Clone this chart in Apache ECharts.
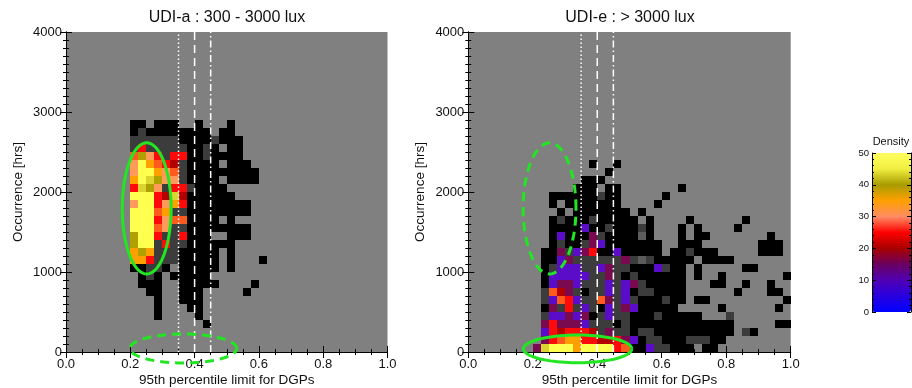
<!DOCTYPE html>
<html>
<head>
<meta charset="utf-8">
<script src="https://cdn.jsdelivr.net/npm/echarts@6/dist/echarts.min.js"></script>
<style>
  html, body { margin: 0; padding: 0; background: #fff; }
  #chart { width: 912px; height: 388px; }
</style>
</head>
<body>
<div id="chart"></div>
<script>
// histogram bins: x = 95th percentile DGP limit, y = occurrence [hrs]
const xStart = 0.2;
const dx = 0.025;
const dy = 100;

// density levels (K black, G/H greys = lowest counts)
const K = 1, G = 2, H = 3, P = 10, M = 15, D = 20, R = 24, O = 28, L = 32, A = 36, V = 41, W = 44, Y = 48;

// UDI-a panel, rows from 2800-2900 hrs down to 300-400 hrs, columns from x = 0.200
const leftTopRow = 28;
const leftRows = [
  [K,K,0,K,K,K,0,0,K,0,0,0,K,0,0,0,0],
  [K,G,K,K,K,K,K,K,K,K,0,K,K,0,0,0,0],
  [G,G,G,G,G,G,K,K,K,K,G,K,K,K,0,0,0],
  [G,R,G,G,G,G,G,K,K,G,K,0,K,K,0,0,0],
  [O,V,L,R,G,R,R,K,K,G,K,K,K,K,0,0,0],
  [L,Y,A,O,R,D,G,K,K,K,K,0,K,K,K,0,0],
  [L,Y,Y,A,L,O,G,K,K,K,K,K,K,K,K,K,0],
  [A,Y,W,V,L,L,G,K,K,K,K,0,K,K,K,K,0],
  [R,W,V,L,G,R,R,G,K,K,K,K,0,0,0,0,0],
  [Y,Y,Y,R,D,W,D,K,K,K,K,K,K,0,0,0,0],
  [L,Y,Y,R,L,A,R,K,K,K,K,K,K,K,K,0,0],
  [Y,Y,Y,O,A,G,G,K,K,K,K,K,K,K,K,0,0],
  [Y,Y,Y,R,L,O,O,K,K,K,K,0,K,0,0,0,0],
  [Y,Y,Y,O,L,G,G,K,K,K,K,K,K,K,K,0,0],
  [V,Y,Y,R,G,G,R,K,K,K,0,0,K,K,K,0,0],
  [V,Y,Y,G,R,G,G,K,K,K,K,K,K,0,0,0,0],
  [A,V,A,G,G,G,K,K,K,K,K,0,K,0,0,0,0],
  [A,A,R,G,G,G,K,K,K,K,K,0,K,0,0,0,K],
  [K,K,G,G,K,0,K,K,K,K,K,0,K,0,0,0,0],
  [0,K,G,K,0,K,K,K,K,K,0,0,0,0,0,0,0],
  [0,K,K,K,0,0,K,K,K,K,K,0,0,0,0,K,0],
  [0,0,K,K,0,0,K,K,K,0,0,0,0,0,K,0,0],
  [0,0,0,K,0,0,K,K,K,0,0,0,0,0,0,0,0],
  [0,0,0,K,0,0,0,K,K,0,0,0,0,0,0,0,0],
  [0,0,0,K,0,0,0,0,K,0,0,0,0,0,0,0,0],
  [0,0,0,0,0,0,0,0,0,K,0,0,0,0,0,0,0]
];

// UDI-e panel, rows from 2300-2400 hrs down to 0-100 hrs, columns from x = 0.200
const rightTopRow = 23;
const rightRows = [
  [0,0,0,0,0,0,0,K,0,0,K,0,0,0,0,0,0,0,0,0,0,0,0,0,0,0,0,0,0,0,0,0],
  [0,0,0,0,0,0,0,0,0,K,0,0,0,0,0,0,0,0,0,0,0,0,0,0,0,0,0,0,0,0,0,0],
  [0,0,0,0,0,0,K,K,K,0,0,0,0,0,0,0,0,0,0,0,0,0,0,0,0,0,0,0,0,0,0,0],
  [0,0,0,0,0,K,K,K,0,K,K,0,0,0,0,0,0,0,K,0,0,0,0,0,0,0,0,0,0,0,0,0],
  [0,0,K,K,K,K,K,K,G,K,K,0,0,0,0,0,K,0,0,0,0,0,0,0,0,0,0,0,0,0,0,0],
  [0,0,K,0,K,K,K,K,K,K,K,0,0,0,0,K,0,0,0,0,0,0,0,0,0,0,0,0,0,0,0,0],
  [0,0,0,K,0,K,K,K,K,K,K,K,0,K,0,0,0,0,0,0,0,0,0,0,0,0,0,0,0,0,0,0],
  [0,0,K,G,K,K,K,G,K,K,K,K,K,0,K,0,0,0,0,K,0,0,0,0,0,0,K,0,0,0,0,0],
  [0,0,K,K,K,K,P,K,K,G,K,K,K,G,K,0,0,0,K,0,K,0,0,0,0,K,0,0,0,0,0,0],
  [0,0,K,P,K,K,K,M,G,K,K,K,K,H,K,0,0,0,K,0,K,K,0,0,0,0,0,0,0,K,0,0],
  [0,0,K,G,K,K,G,M,P,K,K,K,K,K,K,K,0,0,K,K,K,0,0,0,0,0,0,0,K,K,K,0],
  [0,K,K,M,G,P,M,R,K,K,P,K,K,K,K,K,0,K,K,G,K,K,K,0,0,0,0,0,K,K,K,0],
  [0,K,K,P,M,G,G,G,G,G,G,M,G,H,G,K,K,K,K,K,0,K,K,K,K,0,0,0,0,0,0,0],
  [0,K,G,P,P,P,G,G,P,M,G,G,K,K,K,P,G,K,K,0,K,0,0,0,0,0,K,K,0,0,0,0],
  [0,K,P,P,P,P,P,G,G,M,G,K,G,K,K,K,K,K,K,0,K,0,0,K,0,0,0,0,0,0,0,K],
  [0,K,P,M,M,P,G,G,G,P,G,P,M,G,K,K,K,K,K,0,0,0,K,K,0,0,K,0,0,K,0,0],
  [0,G,O,D,M,G,K,G,G,P,G,P,K,G,G,K,K,K,K,0,0,0,0,0,0,K,0,0,0,K,K,0],
  [0,G,P,O,R,P,G,G,O,M,G,P,G,K,K,K,G,K,K,0,K,K,0,0,0,0,0,0,0,0,0,K],
  [0,K,M,G,R,G,P,G,K,P,G,M,P,K,K,K,K,K,0,0,0,0,0,K,0,0,0,0,0,0,K,0],
  [0,G,P,P,M,P,M,K,G,P,G,G,K,K,K,G,K,K,K,K,K,0,0,0,G,0,0,0,0,0,0,0],
  [0,M,R,M,M,M,P,G,G,G,K,G,K,K,K,K,K,K,K,K,K,K,K,K,K,0,0,0,0,0,K,K],
  [0,P,R,D,R,R,R,D,G,M,G,G,K,G,G,K,K,K,K,K,K,K,K,K,K,0,G,K,0,0,0,0],
  [0,M,R,O,A,A,R,R,D,D,R,M,P,K,G,G,K,K,K,G,G,G,K,K,0,0,0,0,0,0,0,0],
  [M,W,Y,Y,Y,A,Y,Y,Y,Y,R,O,K,K,P,G,G,K,K,K,0,K,K,0,0,0,0,0,0,0,0,0]
];

// reference limits drawn as white lines (dotted, dashed, dash-dot)
const refLimits = [0.35, 0.40, 0.45];
const refDash = [[1.5, 2.5], [8, 5], [7, 3, 1.5, 3]];

// green ellipses: centre x, centre y, half width, half height, dashed?
const leftEllipses = [[0.251, 1795, 0.076, 820, 0], [0.365, 44, 0.166, 181, 1]];
const rightEllipses = [[0.252, 1795, 0.082, 820, 1], [0.339, 39, 0.168, 173, 0]];

// colour bar
const densityMin = 0;
const densityMax = 50;
const densityColors = ['#0000ff', '#2800e0', '#5000b4', '#6a0060', '#a80000', '#ff0000',
  '#ff8c64', '#ffa000', '#a89c00', '#f0ee40', '#ffff60'];

function toCells(rows, topRow) {
  const out = [];
  rows.forEach((row, i) => {
    const y = (topRow - i) * dy;
    row.forEach((v, c) => {
      if (v > 0) out.push([xStart + c * dx, y, v]);
    });
  });
  return out;
}

function cellItem(params, api) {
  const x = api.value(0), y = api.value(1);
  const p0 = api.coord([x, y + dy]);
  const p1 = api.coord([x + dx, y]);
  const x0 = Math.round(p0[0]), y0 = Math.round(p0[1]);
  return {
    type: 'rect',
    shape: { x: x0, y: y0, width: Math.round(p1[0]) - x0, height: Math.round(p1[1]) - y0 },
    style: { fill: api.visual('color') }
  };
}

function refLineItem(params, api) {
  const x = api.value(0);
  const a = api.coord([x, 0]);
  const b = api.coord([x, 4000]);
  return {
    type: 'line',
    shape: { x1: a[0], y1: a[1], x2: b[0], y2: b[1] },
    style: { stroke: '#ffffff', lineWidth: 1.5, lineDash: refDash[params.dataIndex] }
  };
}

function ellipseItem(params, api) {
  const cx = api.value(0), cy = api.value(1), rx = api.value(2), ry = api.value(3);
  const pts = [];
  for (let i = 0; i <= 90; i++) {
    const t = (i / 90) * Math.PI * 2;
    pts.push(api.coord([cx + rx * Math.cos(t), cy + ry * Math.sin(t)]));
  }
  return {
    type: 'polyline',
    shape: { points: pts },
    style: {
      stroke: '#22e622', lineWidth: 3, fill: null,
      lineDash: api.value(4) ? [9, 6] : null
    }
  };
}

const font = 'Liberation Sans, Arial, Helvetica, sans-serif';
const ink = '#111';

function xAxisPair(gridIndex) {
  const base = {
    gridIndex, type: 'value', min: 0, max: 1, interval: 0.2,
    splitLine: { show: false },
    axisLine: { lineStyle: { color: '#000', width: 1 } },
    axisTick: { inside: true, length: 6, lineStyle: { color: '#000' } },
    minorTick: { show: true, splitNumber: 4, length: 3, lineStyle: { color: '#000' } }
  };
  return [
    Object.assign({}, base, {
      position: 'bottom',
      name: '95th percentile limit for DGPs', nameLocation: 'middle', nameGap: 21,
      nameMoveOverlap: false,
      nameTextStyle: { color: ink, fontSize: 13.5, fontFamily: font },
      axisLabel: { color: ink, fontSize: 13, fontFamily: font, margin: 6,
        formatter: v => v.toFixed(1) }
    }),
    Object.assign({}, base, { position: 'top', axisLabel: { show: false } })
  ];
}

function yAxisPair(gridIndex) {
  const base = {
    gridIndex, type: 'value', min: 0, max: 4000, interval: 1000,
    splitLine: { show: false },
    axisLine: { lineStyle: { color: '#000', width: 1 } },
    axisTick: { inside: true, length: 6, lineStyle: { color: '#000' } },
    minorTick: { show: true, splitNumber: 10, length: 3, lineStyle: { color: '#000' } }
  };
  return [
    Object.assign({}, base, {
      position: 'left',
      name: 'Occurrence [hrs]', nameLocation: 'middle', nameGap: 41, nameRotate: 90,
      nameMoveOverlap: false,
      nameTextStyle: { color: ink, fontSize: 13.5, fontFamily: font },
      axisLabel: { color: ink, fontSize: 13, fontFamily: font, margin: 4,
        formatter: v => String(v) }
    }),
    Object.assign({}, base, { position: 'right', axisLabel: { show: false } })
  ];
}

const chart = echarts.init(document.getElementById('chart'), null, { renderer: 'canvas' });

chart.setOption({
  animation: false,
  backgroundColor: '#ffffff',
  title: [
    { text: 'UDI-a : 300 - 3000 lux', left: 227, top: 10, padding: 0, textAlign: 'center',
      textStyle: { fontSize: 16, fontWeight: 'normal', color: ink, fontFamily: font } },
    { text: 'UDI-e : > 3000 lux', left: 630, top: 10, padding: 0, textAlign: 'center',
      textStyle: { fontSize: 16, fontWeight: 'normal', color: ink, fontFamily: font } },
    { text: 'Density', left: 891, top: 136, padding: 0, textAlign: 'center',
      textStyle: { fontSize: 11, fontWeight: 'normal', color: ink, fontFamily: font } }
  ],
  grid: [
    { left: 66, top: 32, width: 321.5, height: 320, show: true, backgroundColor: '#808080',
      borderWidth: 0, containLabel: false, outerBoundsMode: 'none' },
    { left: 468.3, top: 32, width: 322.4, height: 320, show: true, backgroundColor: '#808080',
      borderWidth: 0, containLabel: false, outerBoundsMode: 'none' },
    { left: 872, top: 153, width: 39, height: 159, containLabel: false, outerBoundsMode: 'none' }
  ],
  xAxis: [
    ...xAxisPair(0),
    ...xAxisPair(1),
    { gridIndex: 2, type: 'value', min: 0, max: 1, show: false }
  ],
  yAxis: [
    ...yAxisPair(0),
    ...yAxisPair(1),
    {
      gridIndex: 2, type: 'value', min: densityMin, max: densityMax, interval: 10, position: 'left', z: 10,
      splitLine: { show: false },
      axisLine: { lineStyle: { color: '#000' } },
      axisTick: { inside: true, length: 4, lineStyle: { color: '#000' } },
      minorTick: { show: true, splitNumber: 5, length: 2, lineStyle: { color: '#000' } },
      axisLabel: { color: ink, fontSize: 9.5, fontFamily: font, margin: 3 }
    },
    {
      gridIndex: 2, type: 'value', min: densityMin, max: densityMax, interval: 10, position: 'right', z: 10,
      splitLine: { show: false },
      axisLine: { lineStyle: { color: '#000' } },
      axisTick: { inside: true, length: 4, lineStyle: { color: '#000' } },
      minorTick: { show: true, splitNumber: 5, length: 2, lineStyle: { color: '#000' } },
      axisLabel: { show: false }
    }
  ],
  visualMap: [
    {
      type: 'piecewise', show: false, seriesIndex: [0, 1], dimension: 2,
      pieces: [
        { value: K, color: '#000000' },
        { value: G, color: '#3c3c3c' },
        { value: H, color: '#5c5c5c' },
        { min: 9, max: 12, color: '#5a0cc8' },
        { min: 13, max: 17, color: '#7a0a50' },
        { min: 18, max: 22, color: '#b40000' },
        { min: 23, max: 26, color: '#ff0a0a' },
        { min: 27, max: 29, color: '#ff5a1e' },
        { min: 30, max: 33, color: '#ff9a5a' },
        { min: 34, max: 38, color: '#ffa000' },
        { min: 39, max: 42, color: '#b0a000' },
        { min: 43, max: 46, color: '#dcd430' },
        { min: 47, max: 60, color: '#ffff50' }
      ]
    },
    {
      type: 'continuous', seriesIndex: 6, min: densityMin, max: densityMax,
      calculable: false, hoverLink: false, orient: 'vertical',
      left: 872, top: 153, itemWidth: 39, itemHeight: 159, padding: 0, z: 1,
      inRange: { color: densityColors },
      textStyle: { color: 'transparent' }
    }
  ],
  series: [
    { type: 'custom', xAxisIndex: 0, yAxisIndex: 0, renderItem: cellItem, data: toCells(leftRows, leftTopRow), z: 1, silent: true },
    { type: 'custom', xAxisIndex: 2, yAxisIndex: 2, renderItem: cellItem, data: toCells(rightRows, rightTopRow), z: 1, silent: true },
    { type: 'custom', xAxisIndex: 0, yAxisIndex: 0, renderItem: refLineItem, data: refLimits.map(v => [v]), z: 2, silent: true },
    { type: 'custom', xAxisIndex: 2, yAxisIndex: 2, renderItem: refLineItem, data: refLimits.map(v => [v]), z: 2, silent: true },
    { type: 'custom', xAxisIndex: 0, yAxisIndex: 0, renderItem: ellipseItem, data: leftEllipses, clip: false, z: 3, silent: true },
    { type: 'custom', xAxisIndex: 2, yAxisIndex: 2, renderItem: ellipseItem, data: rightEllipses, clip: false, z: 3, silent: true },
    { type: 'custom', xAxisIndex: 4, yAxisIndex: 4, renderItem: () => null, data: [], silent: true }
  ]
});
</script>
</body>
</html>
